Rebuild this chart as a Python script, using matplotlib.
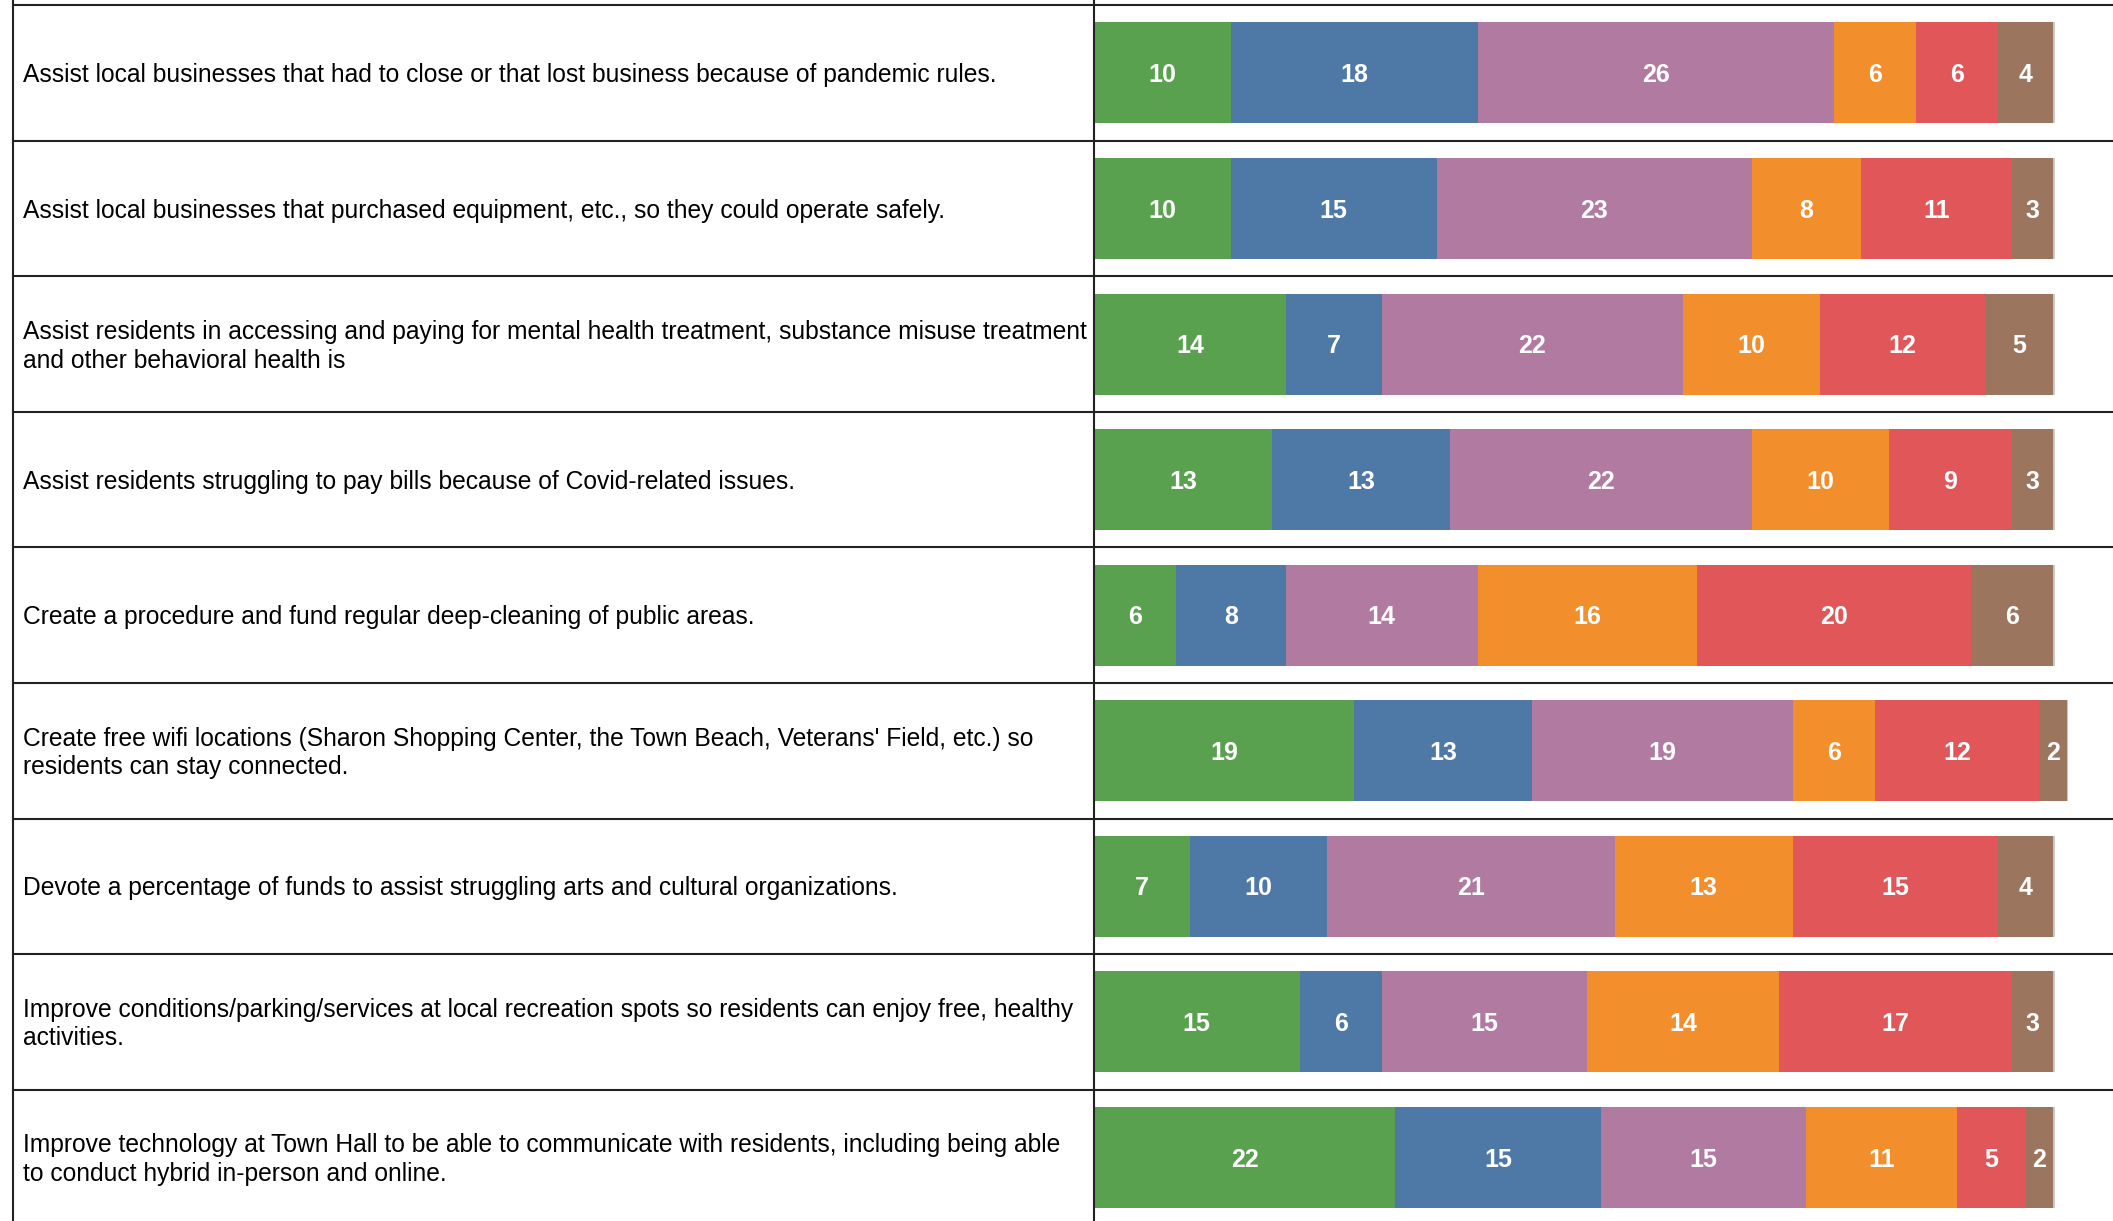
import numpy as np
import matplotlib.pyplot as plt

# survey items (rows, top to bottom)
items = [
    "Assist local businesses that had to close or that lost business because of pandemic rules.",
    "Assist local businesses that purchased equipment, etc., so they could operate safely.",
    "Assist residents in accessing and paying for mental health treatment, substance misuse treatment\nand other behavioral health is",
    "Assist residents struggling to pay bills because of Covid-related issues.",
    "Create a procedure and fund regular deep-cleaning of public areas.",
    "Create free wifi locations (Sharon Shopping Center, the Town Beach, Veterans' Field, etc.) so\nresidents can stay connected.",
    "Devote a percentage of funds to assist struggling arts and cultural organizations.",
    "Improve conditions/parking/services at local recreation spots so residents can enjoy free, healthy\nactivities.",
    "Improve technology at Town Hall to be able to communicate with residents, including being able\nto conduct hybrid in-person and online.",
]

# counts per rank segment
seg1 = [10, 10, 14, 13, 6, 19, 7, 15, 22]
seg2 = [18, 15, 7, 13, 8, 13, 10, 6, 15]
seg3 = [26, 23, 22, 22, 14, 19, 21, 15, 15]
seg4 = [6, 8, 10, 10, 16, 6, 13, 14, 11]
seg5 = [6, 11, 12, 9, 20, 12, 15, 17, 5]
seg6 = [4, 3, 5, 3, 6, 2, 4, 3, 2]

segments = [seg1, seg2, seg3, seg4, seg5, seg6]
colors = ['#59A14F', '#4E79A7', '#B07AA1', '#F28E2B', '#E15759', '#9C755F']

W, H = 2113, 1221
fig = plt.figure(figsize=(W / 100, H / 100), dpi=100)

top_px = 5.2
row_px = 135.55
split_px = 1094
left_px = 13
ylo = -top_px / row_px
yhi = (H - top_px) / row_px
line_c = '#222222'
line_w = 1.5
dy = 0.016  # nudge text down a little

# left label column
axl = fig.add_axes([0, 0, split_px / W, 1])
axl.set_xlim(0, split_px)
axl.set_ylim(yhi, ylo)
axl.axis('off')
for i, txt in enumerate(items):
    axl.text(23, i + 0.5 + dy, txt, ha='left', va='center', fontsize=17.7,
             family='Liberation Sans', color='black', linespacing=1.25)
for i in range(len(items) + 1):
    axl.plot([left_px, split_px], [i, i], color=line_c, lw=line_w, clip_on=False)
axl.plot([left_px, left_px], [ylo, yhi], color=line_c, lw=line_w, clip_on=False)

# bar column
axr = fig.add_axes([split_px / W, 0, 1 - split_px / W, 1])
px_per_unit = 13.7
axr.set_xlim(0, (W - split_px) / px_per_unit)
axr.set_ylim(yhi, ylo)
axr.axis('off')

ypos = np.arange(len(items)) + 0.5
left = np.zeros(len(items))
for vals, c in zip(segments, colors):
    vals = np.array(vals, dtype=float)
    axr.barh(ypos, vals, left=left, height=0.745, color=c, edgecolor='none')
    for y, l, v in zip(ypos, left, vals):
        axr.text(l + v / 2, y + dy, f"{int(v)}", ha='center', va='center',
                 color='white', fontsize=18, fontweight='bold', family='Liberation Sans')
    left += vals
# thin light edge at the end of each bar
axr.barh(ypos, 0.12, left=left, height=0.745, color='#C8C8C8', edgecolor='none')

for i in range(len(items) + 1):
    axr.axhline(i, color=line_c, lw=line_w)
axr.plot([0, 0], [ylo, yhi], color=line_c, lw=line_w, clip_on=False)

fig.savefig('out.png', dpi=100)
